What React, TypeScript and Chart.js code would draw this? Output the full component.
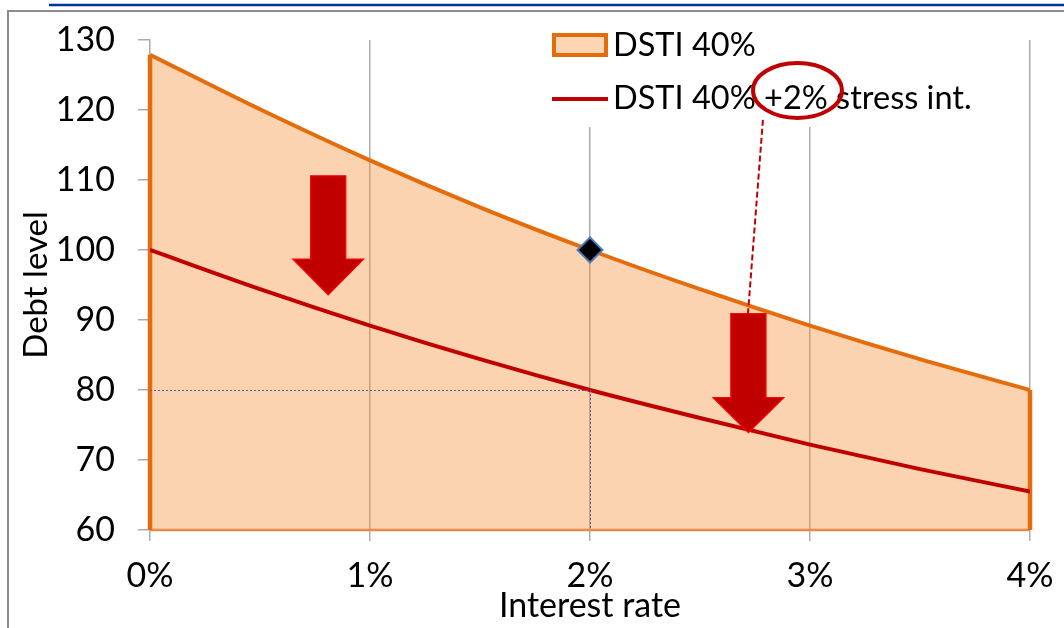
import React, { useEffect, useRef } from 'react';
import { Chart, registerables } from 'chart.js';

Chart.register(...registerables);

// ---- data ----
const rates = [0, 0.5, 1, 1.5, 2, 2.5, 3, 3.5, 4];
const dsti40 = [127.9, 120.1, 112.8, 106.1, 100.0, 94.4, 89.2, 84.4, 80.0];
const dsti40Stress = [100.0, 94.4, 89.2, 84.4, 80.0, 76.0, 72.2, 68.7, 65.5];
const seriesLabels = ['DSTI 40%', 'DSTI 40% +2% stress int.'];
const xTitle = 'Interest rate';
const yTitle = 'Debt level';
const xMin = 0, xMax = 4, xStep = 1;
const yMin = 60, yMax = 130, yStep = 10;
const refPoint = { x: 2, y: 100 };
const guidePoint = { x: 2, y: 80 };
// block arrows (data units): centre x, top of shaft, start of head, tip
const arrows = [
  { x: 0.81, top: 110.6, head: 98.7, tip: 93.6 },
  { x: 2.72, top: 90.9, head: 78.9, tip: 73.9 },
];
const arrowShaftHalf = 0.08; // in % units
const arrowHeadHalf = 0.161;
const ellipseMark = { x: 2.943, y: 122.8, rx: 0.202, ry: 3.93 };
const connector = { x1: 2.786, y1: 118.6, x2: 2.718, y2: 90.9 };

const ORANGE = '#E46C0A';
const FILL = 'rgba(247,150,70,0.42)';
const RED = '#C00000';
const GRID = '#ABABAB';
const FONT = 'Lato, "Open Sans", sans-serif';

const overlayPlugin = {
  id: 'overlay',
  beforeDraw(chart: any) {
    const ctx = chart.ctx;
    ctx.save();
    ctx.fillStyle = '#fff';
    ctx.fillRect(0, 0, chart.width, chart.height);
    // outer frame
    ctx.strokeStyle = '#8C8C8C';
    ctx.lineWidth = 2;
    ctx.beginPath();
    ctx.moveTo(8, chart.height + 2);
    ctx.lineTo(8, 11);
    ctx.lineTo(chart.width + 2, 11);
    ctx.stroke();
    // blue rule on top
    ctx.strokeStyle = '#003399';
    ctx.lineWidth = 2.5;
    ctx.beginPath();
    ctx.moveTo(49, 5);
    ctx.lineTo(chart.width, 5);
    ctx.stroke();
    ctx.restore();
  },
  beforeDatasetsDraw(chart: any) {
    const ctx = chart.ctx;
    ctx.save();
    // legend box (covers grid lines)
    ctx.fillStyle = '#fff';
    ctx.fillRect(540, 22, 455, 105);
    ctx.fillStyle = '#FCD5B5';
    ctx.strokeStyle = ORANGE;
    ctx.lineWidth = 4;
    ctx.fillRect(554, 35, 52, 20);
    ctx.strokeRect(554, 35, 52, 20);
    ctx.strokeStyle = RED;
    ctx.beginPath();
    ctx.moveTo(552, 99);
    ctx.lineTo(608, 99);
    ctx.stroke();
    ctx.fillStyle = '#000';
    ctx.font = `32.5px ${FONT}`;
    ctx.textBaseline = 'middle';
    ctx.textAlign = 'left';
    ctx.fillText(seriesLabels[0], 613, 46);
    ctx.fillText(seriesLabels[1], 613, 99);
    ctx.restore();
  },
  afterDatasetsDraw(chart: any) {
    const ctx = chart.ctx;
    const xs = chart.scales.x;
    const ys = chart.scales.y;
    const px = (v: number) => xs.getPixelForValue(v);
    const py = (v: number) => ys.getPixelForValue(v);
    ctx.save();
    // dotted guides
    ctx.strokeStyle = '#5A5AB0';
    ctx.lineWidth = 1;
    ctx.setLineDash([2, 2]);
    ctx.beginPath();
    ctx.moveTo(px(xMin), py(guidePoint.y) + 0.5);
    ctx.lineTo(px(guidePoint.x), py(guidePoint.y) + 0.5);
    ctx.moveTo(px(guidePoint.x) + 0.5, py(guidePoint.y));
    ctx.lineTo(px(guidePoint.x) + 0.5, py(yMin));
    ctx.stroke();
    ctx.setLineDash([]);
    // arrows
    for (const a of arrows) {
      const cx = px(a.x);
      const sw = px(a.x + arrowShaftHalf) - cx;
      const hw = px(a.x + arrowHeadHalf) - cx;
      const t = py(a.top), h = py(a.head), tip = py(a.tip);
      ctx.beginPath();
      ctx.moveTo(cx - sw, t);
      ctx.lineTo(cx + sw, t);
      ctx.lineTo(cx + sw, h);
      ctx.lineTo(cx + hw, h);
      ctx.lineTo(cx, tip);
      ctx.lineTo(cx - hw, h);
      ctx.lineTo(cx - sw, h);
      ctx.closePath();
      ctx.fillStyle = RED;
      ctx.fill();
      ctx.strokeStyle = '#FF0000';
      ctx.lineWidth = 1.2;
      ctx.stroke();
    }
    // dashed connector
    ctx.strokeStyle = RED;
    ctx.lineWidth = 2;
    ctx.setLineDash([6, 3]);
    ctx.beginPath();
    ctx.moveTo(px(connector.x1), py(connector.y1));
    ctx.lineTo(px(connector.x2), py(connector.y2));
    ctx.stroke();
    ctx.setLineDash([]);
    // ellipse
    const ex = px(ellipseMark.x), ey = py(ellipseMark.y);
    const erx = px(ellipseMark.x + ellipseMark.rx) - ex;
    const ery = py(ellipseMark.y - ellipseMark.ry) - ey;
    ctx.strokeStyle = RED;
    ctx.lineWidth = 4;
    ctx.beginPath();
    ctx.ellipse(ex, ey, erx, ery, 0, 0, Math.PI * 2);
    ctx.stroke();
    // reference diamond
    const dx = px(refPoint.x), dy = py(refPoint.y);
    const r = 12.5;
    ctx.beginPath();
    ctx.moveTo(dx, dy - r);
    ctx.lineTo(dx + r, dy);
    ctx.lineTo(dx, dy + r);
    ctx.lineTo(dx - r, dy);
    ctx.closePath();
    ctx.fillStyle = '#000';
    ctx.fill();
    ctx.strokeStyle = '#4A7EBB';
    ctx.lineWidth = 2;
    ctx.stroke();
    ctx.restore();
  },
};

export default function App() {
  const ref = useRef<HTMLCanvasElement | null>(null);
  useEffect(() => {
    if (!ref.current) return;
    Chart.defaults.font.family = FONT;
    const n = rates.length;
    const chart = new Chart(ref.current, {
      type: 'line',
      data: {
        datasets: [
          {
            label: seriesLabels[1],
            data: rates.map((r, i) => ({ x: r, y: dsti40Stress[i] })),
            borderColor: RED,
            borderWidth: 4,
            fill: false,
            pointRadius: 0,
            cubicInterpolationMode: 'monotone',
            order: 1,
          },
          {
            label: seriesLabels[0],
            data: rates.map((r, i) => ({ x: r, y: dsti40[i] })),
            borderColor: ORANGE,
            borderWidth: 4,
            backgroundColor: FILL,
            fill: 'start',
            pointRadius: 0,
            cubicInterpolationMode: 'monotone',
            order: 3,
          },
          {
            label: 'edges',
            data: [
              { x: rates[0], y: yMin },
              { x: rates[0], y: dsti40[0] },
              { x: rates[n - 1], y: null },
              { x: rates[n - 1], y: dsti40[n - 1] },
              { x: rates[n - 1], y: yMin },
            ],
            borderColor: ORANGE,
            borderWidth: 4.5,
            fill: false,
            pointRadius: 0,
            spanGaps: false,
            tension: 0,
            clip: false,
            order: 2,
          },
          {
            label: 'base',
            data: [
              { x: rates[0], y: yMin },
              { x: rates[n - 1], y: yMin },
            ],
            borderColor: '#E9894A',
            borderWidth: 2.5,
            fill: false,
            pointRadius: 0,
            clip: false,
            order: 2,
          },
        ] as any,
      },
      options: {
        animation: false,
        responsive: false,
        layout: { padding: { top: 40, right: 34, left: 0, bottom: 0 } },
        plugins: { legend: { display: false }, tooltip: { enabled: false } },
        scales: {
          x: {
            type: 'linear',
            min: xMin,
            max: xMax,
            ticks: {
              stepSize: xStep,
              callback: (v: any) => `${v}%`,
              color: '#000',
              font: { size: 34 },
              padding: 15,
              maxRotation: 0,
            },
            grid: {
              color: (c: any) => (c.tick && c.tick.value === xMin ? 'rgba(0,0,0,0)' : GRID),
              lineWidth: 1.5,
              tickLength: 11,
              tickColor: GRID,
            },
            border: { color: GRID, width: 1.5 },
            title: { display: true, text: xTitle, color: '#000', font: { size: 34 }, padding: { top: 0, bottom: 2 } },
            afterFit: (s: any) => {
              s.height = 98;
              s.paddingLeft = 0;
              s.paddingRight = 0;
            },
          },
          y: {
            type: 'linear',
            min: yMin,
            max: yMax,
            ticks: { stepSize: yStep, color: '#000', font: { size: 34 }, padding: 23 },
            grid: { drawOnChartArea: false, tickLength: 12, tickColor: GRID, lineWidth: 1.5 },
            border: { color: GRID, width: 1.5 },
            title: { display: true, text: yTitle, color: '#000', font: { size: 33 }, padding: { top: 17, bottom: 0 } },
            afterFit: (s: any) => {
              s.width = 150;
              s.paddingTop = 0;
              s.paddingBottom = 0;
            },
          },
        },
      } as any,
      plugins: [overlayPlugin],
    });
    return () => chart.destroy();
  }, []);
  return (
    <div style={{ position: 'fixed', left: 0, top: 0, width: 1064, height: 628 }}>
      <canvas ref={ref} width={1064} height={628} style={{ display: 'block', width: 1064, height: 628 }} />
    </div>
  );
}
